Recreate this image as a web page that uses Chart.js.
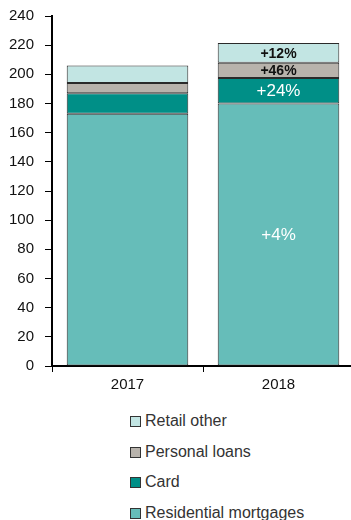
<!DOCTYPE html>
<html>
<head>
<meta charset="utf-8">
<script src="https://cdn.jsdelivr.net/npm/chart.js@4/dist/chart.umd.min.js"></script>
<style>
  body { margin: 0; background: #fff; overflow: hidden; font-family: "Liberation Sans", Arial, sans-serif; }
  #wrap { position: relative; width: 354px; height: 400px; }
  #legend { position: absolute; left: 130px; top: 406px; margin: 0; padding: 0; list-style: none; }
  #legend li { height: 30.5px; line-height: 30px; font-size: 16px; color: #333; white-space: nowrap; }
  #legend span.box { display: inline-block; width: 9px; height: 9px; border: 1px solid #333; margin-right: 4px; vertical-align: -1px; }
</style>
</head>
<body>
<div id="wrap"><canvas id="retailChart"></canvas></div>
<ul id="legend"></ul>
<script>
  // 연도
  const years = ['2017', '2018'];

  // 항목별 잔액
  const residentialMortgages = [173, 180];
  const card = [14, 17.5];
  const personalLoans = [7, 10.5];
  const retailOther = [12, 13.5];

  // 2018 증가율 표시
  const mortgageGrowth = ['', '+4%'];
  const cardGrowth = ['', '+24%'];
  const loansGrowth = ['', '+46%'];
  const otherGrowth = ['', '+12%'];

  const yTicks = [0, 20, 40, 60, 80, 100, 120, 140, 160, 180, 200, 220, 240];

  const fontFamily = '"Liberation Sans", Arial, sans-serif';

  // 막대 안에 증가율 텍스트
  const growthLabels = {
    id: 'growthLabels',
    afterDatasetsDraw(chart) {
      const ctx = chart.ctx;
      chart.data.datasets.forEach((ds, i) => {
        const meta = chart.getDatasetMeta(i);
        meta.data.forEach((bar, j) => {
          const txt = ds.growth[j];
          if (!txt) return;
          const y = (bar.y + bar.base) / 2;
          ctx.save();
          ctx.font = ds.growthFont + ' ' + fontFamily;
          ctx.fillStyle = ds.growthColor;
          ctx.textAlign = 'center';
          ctx.textBaseline = 'middle';
          ctx.fillText(txt, bar.x, y + 1);
          ctx.restore();
        });
      });
    }
  };

  const ctx = document.getElementById('retailChart').getContext('2d');
  const retailChart = new Chart(ctx, {
    type: 'bar',
    data: {
      labels: years,
      datasets: [
        { label: 'Residential mortgages', data: residentialMortgages, backgroundColor: '#66bdb9', growth: mortgageGrowth, growthColor: '#fff', growthFont: '500 17px' },
        { label: 'Card', data: card, backgroundColor: '#008f87', growth: cardGrowth, growthColor: '#fff', growthFont: '500 17px' },
        { label: 'Personal loans', data: personalLoans, backgroundColor: '#b8b3ac', growth: loansGrowth, growthColor: '#111', growthFont: 'bold 14px' },
        { label: 'Retail other', data: retailOther, backgroundColor: '#c2e5e3', growth: otherGrowth, growthColor: '#111', growthFont: 'bold 14px' }
      ].map(ds => Object.assign(ds, {
        borderColor: '#2a2a2a',
        borderWidth: 1,
        borderSkipped: false,
        barPercentage: 0.805,
        categoryPercentage: 1
      }))
    },
    options: {
      responsive: true,
      maintainAspectRatio: false,
      animation: false,
      layout: { padding: { top: 16, right: 0, left: 0, bottom: 0 } },
      plugins: {
        legend: { display: false },
        tooltip: { enabled: false }
      },
      scales: {
        x: {
          stacked: true,
          afterFit: s => { s.height = 34; },
          border: { color: '#000', width: 2 },
          grid: { display: true, drawOnChartArea: false, tickLength: 6, color: '#000', offset: true },
          ticks: { color: '#111', font: { family: fontFamily, size: 15 }, padding: 4 }
        },
        y: {
          stacked: true,
          min: 0,
          max: 240,
          afterFit: s => { s.width = 52; s.paddingTop = 0; },
          afterBuildTicks: s => { s.ticks = yTicks.map(v => ({ value: v })); },
          border: { color: '#000', width: 2 },
          grid: { display: true, drawOnChartArea: false, tickLength: 7, color: '#000' },
          ticks: { color: '#111', font: { family: fontFamily, size: 15, lineHeight: 1 }, padding: 11 }
        }
      }
    },
    plugins: [growthLabels]
  });

  // 범례 (역순, 세로)
  const legendEl = document.getElementById('legend');
  retailChart.data.datasets.slice().reverse().forEach(ds => {
    const li = document.createElement('li');
    li.innerHTML = '<span class="box" style="background:' + ds.backgroundColor + '"></span>' + ds.label;
    legendEl.appendChild(li);
  });
</script>
</body>
</html>
